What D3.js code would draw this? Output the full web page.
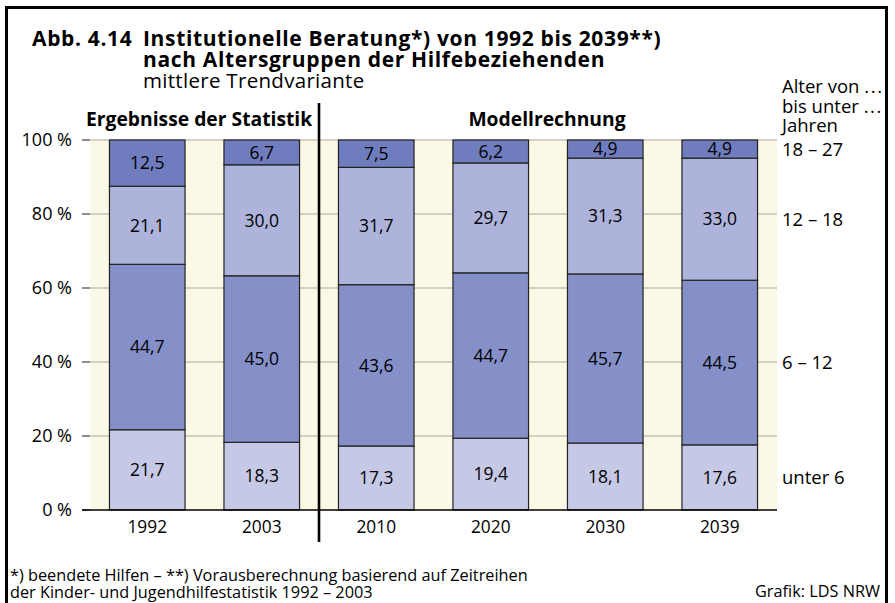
<!DOCTYPE html>
<html><head><meta charset="utf-8">
<script src="https://cdn.jsdelivr.net/npm/d3@7"></script>
<style>html,body{margin:0;padding:0;background:#fff;}svg{display:block;font-family:"Open Sans",sans-serif;}</style>
</head><body>
<svg id="c" width="895" height="603"></svg>
<script>
const years = ["1992","2003","2010","2020","2030","2039"];
const groups = ["unter 6","6 – 12","12 – 18","18 – 27"];
const under6 = [21.7,18.3,17.3,19.4,18.1,17.6];
const age6to12 = [44.7,45.0,43.6,44.7,45.7,44.5];
const age12to18 = [21.1,30.0,31.7,29.7,31.3,33.0];
const age18to27 = [12.5,6.7,7.5,6.2,4.9,4.9];
const yTicks = [0,20,40,60,80,100];
const colors = ["#C6C9E5","#8590C8","#ADB3DA","#6F7DBE"];

const seriesVals = [under6, age6to12, age12to18, age18to27];
const rows = years.map((y,i)=>{const r={year:y}; groups.forEach((g,j)=>r[g]=seriesVals[j][i]); return r;});
const stacked = d3.stack().keys(groups)(rows);

const svg = d3.select("#c");
const fmt = v => d3.format(".1f")(v).replace(".", ",");

const x = d3.scaleBand().domain(years).range([90,777]).paddingInner(0.34).paddingOuter(0.17);
const y = d3.scaleLinear().domain([0,100]).range([510,140]);
const yc = v => y(Math.min(v,100));

// frame
svg.append("rect").attr("x",6.5).attr("y",7.5).attr("width",880).attr("height",640)
  .attr("fill","none").attr("stroke","#000").attr("stroke-width",3);

// title
const t = svg.append("g").attr("fill","#000");
const tb = {"font-weight":"bold","font-size":21,"letter-spacing":0.65};
const addT = (xx,yy,s,opts)=>{const e=t.append("text").attr("x",xx).attr("y",yy).text(s); Object.entries(opts).forEach(([k,v])=>e.attr(k,v)); return e;};
addT(32,46,"Abb. 4.14",tb);
addT(143,46,"Institutionelle Beratung*) von 1992 bis 2039**)",tb);
addT(143,67,"nach Altersgruppen der Hilfebeziehenden",tb);
addT(143,88,"mittlere Trendvariante",{"font-size":20.5,"letter-spacing":0.3});

// background
svg.append("rect").attr("x",90).attr("y",y(100)).attr("width",777-90).attr("height",y(0)-y(100)).attr("fill","#FCF8E6");

// grid + ticks
svg.append("g").selectAll("line").data(yTicks.filter(d=>d>0)).join("line")
  .attr("x1",90).attr("x2",777).attr("y1",d=>y(d)).attr("y2",d=>y(d))
  .attr("stroke","#ABA79C").attr("stroke-width",1.2);
svg.append("g").selectAll("line").data(yTicks).join("line")
  .attr("x1",82).attr("x2",90).attr("y1",d=>y(d)).attr("y2",d=>y(d))
  .attr("stroke","#444").attr("stroke-width",1.2);
svg.append("g").selectAll("text").data(yTicks).join("text")
  .attr("x",72).attr("y",d=>y(d)).attr("dy","0.36em").attr("text-anchor","end")
  .attr("font-size",18).text(d=>d+" %");

// bars
const layer = svg.append("g").selectAll("g").data(stacked).join("g").attr("fill",(d,i)=>colors[i]);
layer.selectAll("rect").data(d=>d).join("rect")
  .attr("x",d=>x(d.data.year)).attr("width",x.bandwidth())
  .attr("y",d=>yc(d[1])).attr("height",d=>yc(d[0])-yc(d[1]))
  .attr("stroke","#222").attr("stroke-width",1.2);
const lab = svg.append("g").attr("font-size",17.5).attr("text-anchor","middle").attr("fill","#000");
stacked.forEach(s=>{
  s.forEach(d=>{
    lab.append("text").attr("x",x(d.data.year)+x.bandwidth()/2)
      .attr("y",(yc(d[0])+yc(d[1]))/2).attr("dy","0.36em").text(fmt(d[1]-d[0]));
  });
});

// x axis
svg.append("line").attr("x1",82).attr("x2",777).attr("y1",y(0)).attr("y2",y(0)).attr("stroke","#000").attr("stroke-width",1.3);
svg.append("g").selectAll("text").data(years).join("text")
  .attr("x",d=>x(d)+x.bandwidth()/2).attr("y",533).attr("text-anchor","middle").attr("font-size",17.3).text(d=>d);

// separator
svg.append("line").attr("x1",319).attr("x2",319).attr("y1",103).attr("y2",542).attr("stroke","#000").attr("stroke-width",2.6);
svg.append("text").attr("x",86).attr("y",126).attr("font-weight","bold").attr("font-size",19.3).text("Ergebnisse der Statistik");
svg.append("text").attr("x",547).attr("y",126).attr("text-anchor","middle").attr("font-weight","bold").attr("font-size",19.3).text("Modellrechnung");

// right legend labels
const rl = svg.append("g").attr("font-size",18.5);
[["Alter von","..."],["bis unter","..."],["Jahren",""]].forEach((s,i)=>{
  const tx = rl.append("text").attr("x",782).attr("y",93+i*19.5);
  tx.append("tspan").text(s[0]+" ");
  if (s[1]) tx.append("tspan").attr("letter-spacing",1.6).text(s[1]);
});
const last = years.length-1;
stacked.forEach((s,i)=>{
  const d=s[last];
  rl.append("text").attr("x",782).attr("y",(yc(d[0])+yc(d[1]))/2).attr("dy","0.36em").text(groups[i]);
});

// footer
const f = svg.append("g").attr("font-size",16.3);
f.append("text").attr("x",10).attr("y",581).text("*) beendete Hilfen – **) Vorausberechnung basierend auf Zeitreihen");
f.append("text").attr("x",10).attr("y",598).text("der Kinder- und Jugendhilfestatistik 1992 – 2003");
f.append("text").attr("x",880).attr("y",597).attr("text-anchor","end").text("Grafik: LDS NRW");
</script>
</body></html>
